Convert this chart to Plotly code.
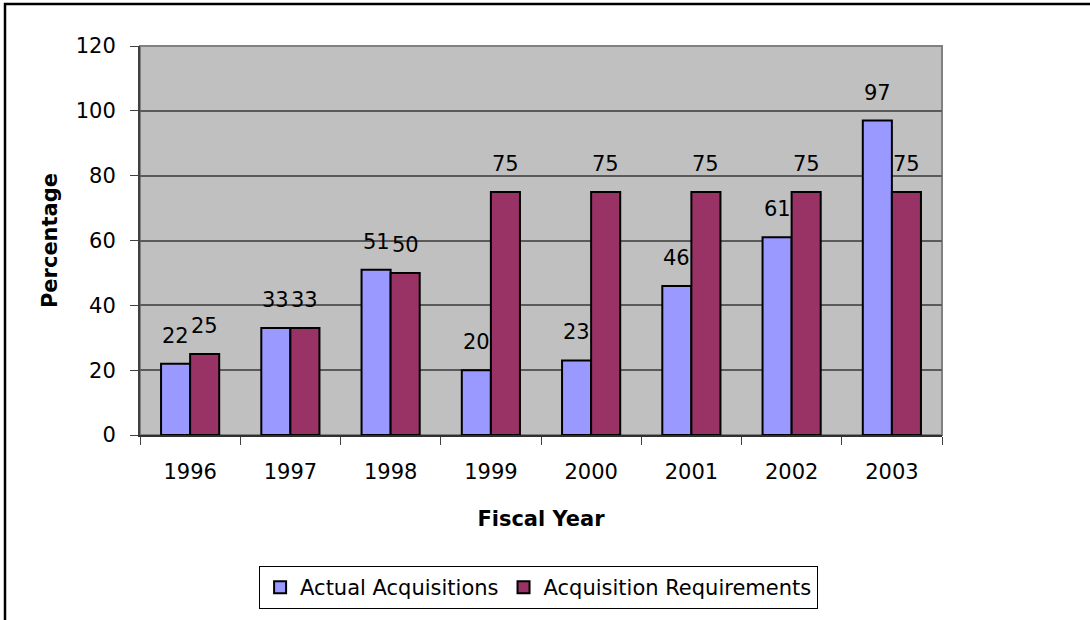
import plotly.graph_objects as go

years = ["1996", "1997", "1998", "1999", "2000", "2001", "2002", "2003"]
actual = [22, 33, 51, 20, 23, 46, 61, 97]
required = [25, 33, 50, 75, 75, 75, 75, 75]
series_names = ["Actual Acquisitions", "Acquisition Requirements"]
y_ticks = [0, 20, 40, 60, 80, 100, 120]

FONT = "DejaVu Sans, Liberation Sans, Arial, sans-serif"
FS = 21
BLUE = "#9999FF"
MAROON = "#993366"

fig = go.Figure()
fig.add_trace(go.Bar(x=years, y=actual, name=series_names[0],
                     marker=dict(color=BLUE, line=dict(color="black", width=2))))
fig.add_trace(go.Bar(x=years, y=required, name=series_names[1],
                     marker=dict(color=MAROON, line=dict(color="black", width=2))))

annotations = []
for i, (a, r) in enumerate(zip(actual, required)):
    for val, shift in ((a, -14.5), (r, 14.5)):
        annotations.append(dict(x=i, y=val, xref="x", yref="y", text=str(val),
                                showarrow=False, xshift=shift, yshift=14,
                                yanchor="bottom", xanchor="center",
                                font=dict(family=FONT, size=FS, color="black")))

shapes = [
    # outer chart border (top and left visible)
    dict(type="rect", xref="paper", yref="paper",
         x0=(5 - 140) / 802, x1=(1110 - 140) / 802,
         y0=(436 - 640) / 390, y1=1 + (46 - 4) / 390,
         line=dict(color="black", width=2.5), layer="below"),
    # plot area border (gray)
    dict(type="rect", xref="paper", yref="paper", x0=0, x1=1, y0=0, y1=1,
         line=dict(color="#808080", width=2), layer="below"),
]

fig.update_layout(
    width=1090, height=620,
    margin=dict(l=140, r=148, t=46, b=184),
    paper_bgcolor="white", plot_bgcolor="#C0C0C0",
    barmode="group", bargap=0.42, bargroupgap=0,
    font=dict(family=FONT, size=FS, color="black"),
    showlegend=True,
    legend=dict(orientation="h", x=0.497, xanchor="center",
                y=(436 - 566) / 390, yanchor="top",
                bordercolor="black", borderwidth=1, bgcolor="white",
                font=dict(family=FONT, size=FS), itemclick=False,
                traceorder="normal", itemwidth=30),
    annotations=annotations,
    shapes=shapes,
    xaxis=dict(type="category", range=[-0.5, len(years) - 0.5],
               title=dict(text="<b>Fiscal Year</b>", font=dict(size=FS), standoff=28),
               tickson="boundaries", ticks="outside", ticklen=8, tickcolor="#404040",
               ticklabelstandoff=17, tickangle=0,
               showline=True, linecolor="#303030", linewidth=2,
               tickfont=dict(size=FS), showgrid=False, automargin=False),
    yaxis=dict(title=dict(text="<b>Percentage</b>", font=dict(size=FS), standoff=12),
               range=[0, 120], tickvals=y_ticks, ticks="outside", ticklen=8,
               ticklabelstandoff=10,
               tickcolor="#404040", showline=True, linecolor="#404040", linewidth=2,
               showgrid=True, gridcolor="#5a5a5a", gridwidth=1.5,
               tickfont=dict(size=FS), zeroline=False, automargin=False),
)

fig.write_html("out.html", config={"displayModeBar": False},
               post_script="document.body.style.margin='0';")
